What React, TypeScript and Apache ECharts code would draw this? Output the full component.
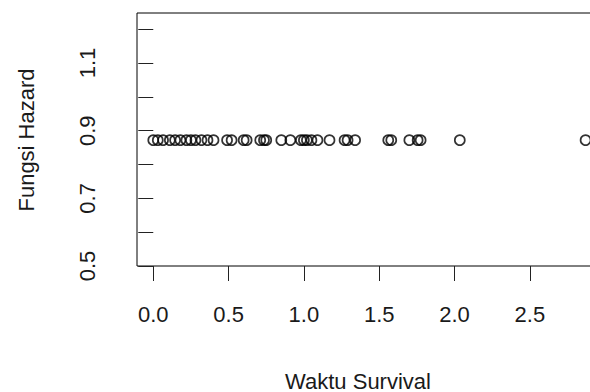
import React, { useEffect, useRef } from "react";
import * as echarts from "echarts";

const survivalTimes: number[] = [
  0.0, 0.03, 0.065, 0.11, 0.145, 0.18, 0.22, 0.25, 0.28, 0.32, 0.36, 0.4,
  0.49, 0.52, 0.6, 0.62, 0.71, 0.735, 0.75, 0.85, 0.91, 0.98, 1.0, 1.02,
  1.05, 1.09, 1.17, 1.27, 1.29, 1.34, 1.56, 1.58, 1.7, 1.755, 1.775, 2.035,
  2.87,
];
const hazardValue = 0.872;
const xTickValues: number[] = [0, 0.5, 1.0, 1.5, 2.0, 2.5];
const yTickValues: number[] = [0.5, 0.6, 0.7, 0.8, 0.9, 1.0, 1.1, 1.2];
const yLabelValues: number[] = [0.5, 0.7, 0.9, 1.1];
const xTitle = "Waktu Survival";
const yTitle = "Fungsi Hazard";

export default function App() {
  const ref = useRef<HTMLDivElement>(null);
  useEffect(() => {
    if (!ref.current) return;
    const chart = echarts.init(ref.current, undefined, { renderer: "svg" });
    const font = "Liberation Sans, Arial, sans-serif";
    const textColor = "#1a1a1a";
    chart.setOption({
      animation: false,
      backgroundColor: "#ffffff",
      grid: {
        left: 137,
        top: 13,
        bottom: 126,
        right: 8,
        show: true,
        borderColor: "#000",
        borderWidth: 1,
        backgroundColor: "transparent",
      },
      xAxis: {
        type: "value",
        min: -0.108,
        max: 2.979,
        splitLine: { show: false },
        axisLine: { show: false },
        axisTick: {
          show: true,
          inside: false,
          length: 15,
          customValues: xTickValues,
          lineStyle: { color: "#222", width: 1 },
        },
        axisLabel: {
          customValues: xTickValues,
          formatter: (v: number) => v.toFixed(1),
          margin: 37,
          fontSize: 22,
          fontFamily: font,
          color: textColor,
        },
      },
      yAxis: {
        type: "value",
        min: 0.5,
        max: 1.248,
        splitLine: { show: false },
        axisLine: { show: false },
        axisTick: {
          show: true,
          length: 15,
          customValues: yTickValues,
          lineStyle: { color: "#222", width: 1 },
        },
        axisLabel: {
          customValues: yLabelValues,
          formatter: (v: number) => v.toFixed(1),
          rotate: 90,
          margin: 39,
          fontSize: 22,
          fontFamily: font,
          color: textColor,
        },
      },
      graphic: [
        {
          type: "text",
          x: 358,
          y: 381,
          style: {
            text: xTitle,
            fontSize: 22,
            fontFamily: font,
            fill: textColor,
            align: "center",
            verticalAlign: "middle",
          },
        },
        {
          type: "text",
          x: 26,
          y: 140,
          rotation: Math.PI / 2,
          style: {
            text: yTitle,
            fontSize: 22,
            fontFamily: font,
            fill: textColor,
            align: "center",
            verticalAlign: "middle",
          },
        },
      ],
      series: [
        {
          type: "scatter",
          data: survivalTimes.map((t) => [t, hazardValue]),
          symbol: "circle",
          symbolSize: 10,
          itemStyle: { color: "transparent", borderColor: "#000", borderWidth: 1.7 },
          clip: true,
        },
      ],
    });
    return () => chart.dispose();
  }, []);
  return (
    <div style={{ width: 590, height: 392, position: "absolute", left: 0, top: 0, overflow: "hidden" }}>
      <div ref={ref} style={{ width: 610, height: 392 }} />
    </div>
  );
}
